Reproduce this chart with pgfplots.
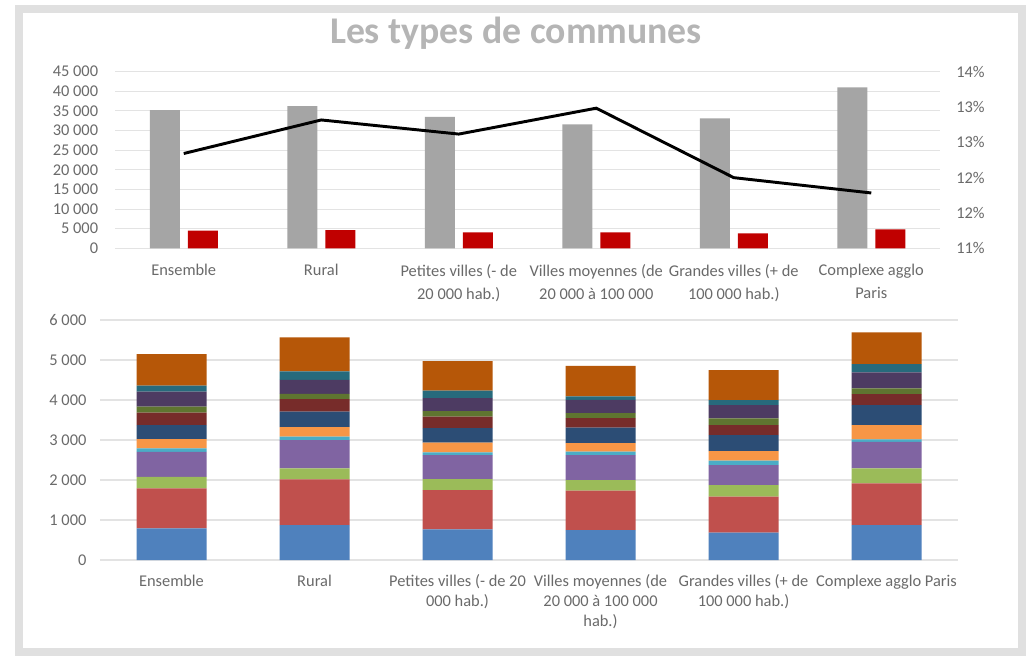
\documentclass[border=0pt]{standalone}
\usepackage{fontspec}
\setmainfont{Carlito}
\usepackage{pgfplots}
\usepackage{pgfplotstable}
\pgfplotsset{compat=1.18}

\definecolor{tickgray}{HTML}{6A6A6A}
\definecolor{gridgray}{HTML}{E3E3E3}
\definecolor{titlegray}{HTML}{B5B5B5}
\definecolor{bargray}{HTML}{A5A5A5}
\definecolor{barred}{HTML}{C00000}
\definecolor{c1}{HTML}{4F81BD}
\definecolor{c2}{HTML}{C0504D}
\definecolor{c3}{HTML}{9BBB59}
\definecolor{c4}{HTML}{8064A2}
\definecolor{c5}{HTML}{4BACC6}
\definecolor{c6}{HTML}{F79646}
\definecolor{c7}{HTML}{2C4D75}
\definecolor{c8}{HTML}{772C2A}
\definecolor{c9}{HTML}{5F7530}
\definecolor{c10}{HTML}{4D3B62}
\definecolor{c11}{HTML}{276A7C}
\definecolor{c12}{HTML}{B65708}

% top chart: grey bars, red bars (left axis), share in % (right axis)
\pgfplotstableread{
x grey red pct
0 35200 4480 12.61
1 36200 4660 13.18
2 33500 4070 12.94
3 31600 4070 13.38
4 33100 3820 12.20
5 41000 4840 11.94
}\toptable

% bottom chart: 12 stacked components
\pgfplotstableread{
x s1 s2 s3 s4 s5 s6 s7 s8 s9 s10 s11 s12
0 790 1000 290 625 85 235 350 310 150 375 150 785
1 875 1140 275 710 85 235 390 310 135 350 210 850
2 765 985 275 600 65 245 360 290 140 320 190 740
3 750 985 265 625 85 210 390 235 125 335 85 765
4 685 900 290 500 110 240 400 250 165 335 125 750
5 875 1040 375 665 60 360 500 275 140 400 210 790
}\bottable

\pgfplotsset{
  commune/.style={
    scale only axis, anchor=south west,
    xmin=-0.5, xmax=5.5, xtick={0,...,5},
    axis line style={draw=none}, major tick length=0pt,
    ymajorgrids, grid style={gridgray, line width=0.8pt},
    tick label style={text=tickgray, font=\fontsize{12.3}{17}\selectfont},
    xticklabel style={align=center, anchor=north, inner sep=0pt, yshift=-12pt},
    /pgf/number format/.cd, 1000 sep={\ }, assume math mode=true,
  },
}

\begin{document}
\begin{tikzpicture}
\fill[white] (0,0) rectangle (773.25pt,492.75pt);
\draw[line width=5.5pt, black!12] (14.25pt,3.75pt) rectangle (766.5pt,486pt);
\node[font=\fontsize{28.3}{31}\selectfont\bfseries, text=titlegray] at (387pt,467.5pt) {Les types de communes};

\begin{axis}[commune,
  at={(86.25pt,306.5pt)}, width=618.75pt, height=132.5pt,
  ymin=0, ymax=45000, ytick={0,5000,...,45000}, scaled y ticks=false,
  yticklabel style={anchor=east, inner sep=0pt, xshift=-12.5pt},
  xticklabels={Ensemble, Rural, Petites villes (- de\\20 000 hab.),
    Villes moyennes (de\\20 000 à 100 000, Grandes villes (+ de\\100 000 hab.),
    Complexe agglo\\Paris},
]
\addplot[ybar, bar width=22.5pt, bar shift=-14.25pt, fill=bargray, draw=none] table[x=x,y=grey] {\toptable};
\addplot[ybar, bar width=22.5pt, bar shift=14.25pt, fill=barred, draw=none] table[x=x,y=red] {\toptable};
\end{axis}

\begin{axis}[commune,
  at={(86.25pt,306.5pt)}, width=618.75pt, height=132.5pt,
  ymin=11, ymax=14, ymajorgrids=false,
  axis x line=none, axis y line*=right,
  ytick={11,11.6,12.2,12.8,13.4,14},
  yticklabels={11\%,12\%,12\%,13\%,13\%,14\%},
  yticklabel style={anchor=west, inner sep=0pt, xshift=12pt},
]
\addplot[black, line width=2.2pt] table[x=x,y=pct] {\toptable};
\end{axis}

\begin{axis}[commune,
  at={(75pt,72.75pt)}, width=643.5pt, height=180pt,
  ymin=0, ymax=6000, ytick={0,1000,...,6000}, scaled y ticks=false,
  yticklabel style={anchor=east, inner sep=0pt, xshift=-10pt},
  ybar stacked, bar width=52.5pt,
  xticklabel style={font=\fontsize{12.3}{15}\selectfont, yshift=1pt},
  xticklabels={Ensemble, Rural, Petites villes (- de 20\\000 hab.),
    Villes moyennes (de\\20 000 à 100 000\\hab.), Grandes villes (+ de\\100 000 hab.),
    Complexe agglo Paris},
]
\addplot[fill=c1, draw=none] table[x=x,y=s1] {\bottable};
\addplot[fill=c2, draw=none] table[x=x,y=s2] {\bottable};
\addplot[fill=c3, draw=none] table[x=x,y=s3] {\bottable};
\addplot[fill=c4, draw=none] table[x=x,y=s4] {\bottable};
\addplot[fill=c5, draw=none] table[x=x,y=s5] {\bottable};
\addplot[fill=c6, draw=none] table[x=x,y=s6] {\bottable};
\addplot[fill=c7, draw=none] table[x=x,y=s7] {\bottable};
\addplot[fill=c8, draw=none] table[x=x,y=s8] {\bottable};
\addplot[fill=c9, draw=none] table[x=x,y=s9] {\bottable};
\addplot[fill=c10, draw=none] table[x=x,y=s10] {\bottable};
\addplot[fill=c11, draw=none] table[x=x,y=s11] {\bottable};
\addplot[fill=c12, draw=none] table[x=x,y=s12] {\bottable};
\end{axis}
\end{tikzpicture}
\end{document}
